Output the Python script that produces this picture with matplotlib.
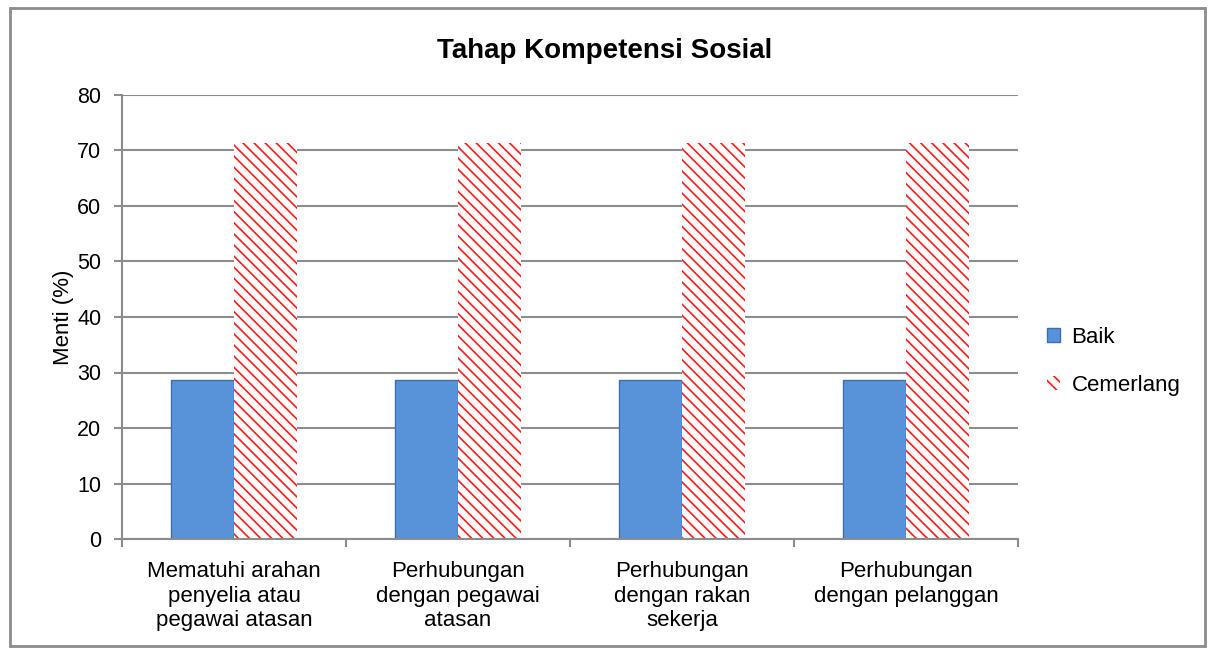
import matplotlib
matplotlib.use('Agg')
import matplotlib.pyplot as plt
import numpy as np
from matplotlib.patches import Rectangle

plt.rcParams['font.family'] = ['Liberation Sans', 'DejaVu Sans']
plt.rcParams['hatch.linewidth'] = 1.2

categories = ['Mematuhi arahan\npenyelia atau\npegawai atasan',
              'Perhubungan\ndengan pegawai\natasan',
              'Perhubungan\ndengan rakan\nsekerja',
              'Perhubungan\ndengan pelanggan']
baik = [28.57, 28.57, 28.57, 28.57]
cemerlang = [71.43, 71.43, 71.43, 71.43]
yticks = [0, 10, 20, 30, 40, 50, 60, 70, 80]

fig = plt.figure(figsize=(12.1, 6.48), dpi=100)
fig.patches.append(Rectangle((0.008, 0.003), 0.988, 0.985, transform=fig.transFigure,
                             fill=False, edgecolor='#8c8c8c', linewidth=2))
ax = fig.add_axes([122 / 1210, 1 - 539 / 648, 896 / 1210, 444 / 648])

x = np.arange(len(categories))
w = 0.28
grid_c = '#8c8c8c'
ax.set_axisbelow(True)
ax.yaxis.grid(True, color=grid_c, linewidth=1.5)
ax.bar(x - w / 2, baik, w, color='#5892d9', edgecolor='#3d6fae', linewidth=1.0, label='Baik')
ax.bar(x + w / 2, cemerlang, w, color='white', edgecolor='#ff1a1a', hatch='\\\\\\',
       linewidth=0, label='Cemerlang')

ax.set_xlim(-0.5, len(categories) - 0.5)
ax.set_ylim(0, 80)
ax.set_yticks(yticks)
ax.set_xticks(x)
ax.set_xticklabels(categories, fontsize=16, linespacing=1.22)
ax.set_xticks(np.arange(-0.5, len(categories)), minor=True)
ax.tick_params(axis='x', which='major', length=0, pad=16)
ax.tick_params(axis='x', which='minor', length=6, color=grid_c, width=1.5)
ax.tick_params(axis='y', length=6, color=grid_c, width=1.5, labelsize=15.5, pad=9)
for s in ['top', 'right']:
    ax.spines[s].set_visible(False)
for s in ['left', 'bottom']:
    ax.spines[s].set_color(grid_c)
    ax.spines[s].set_linewidth(1.5)
ax.set_ylabel('Menti (%)', fontsize=16, labelpad=2)
fig.text(0.5, 1 - 51 / 648, 'Tahap Kompetensi Sosial', ha='center', va='center',
         fontsize=20, fontweight='bold')
ax.legend(loc='center left', bbox_to_anchor=(1.01, 0.4), frameon=False, fontsize=16,
          handlelength=0.6, handleheight=0.6, handletextpad=0.5, labelspacing=1.2)

fig.savefig('out.png', dpi=100)
